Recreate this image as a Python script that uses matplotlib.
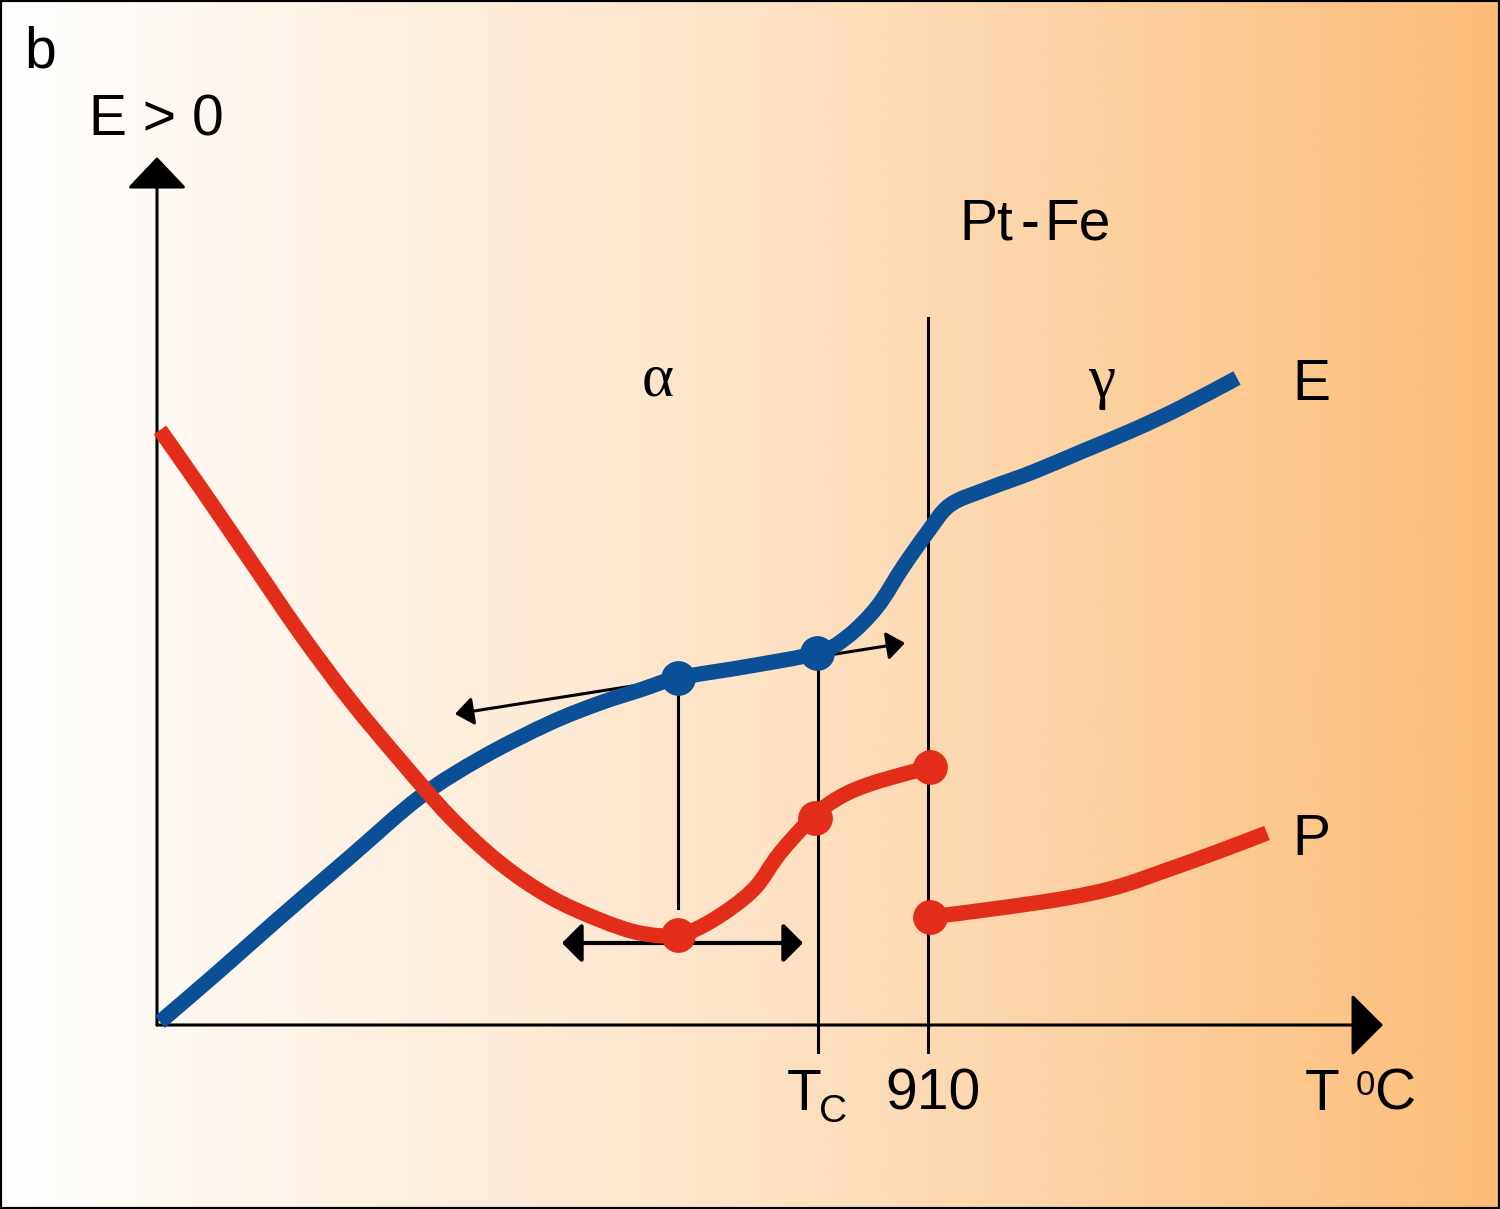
import numpy as np
import matplotlib
matplotlib.use("Agg")
import matplotlib.pyplot as plt
from matplotlib.patches import FancyArrowPatch, ArrowStyle, Rectangle, PathPatch
from matplotlib.path import Path
from matplotlib.colors import LinearSegmentedColormap

# ---- data (T on x, E / P on y, arbitrary units) ----
e_t = [0.03, 0.60, 1.20, 1.93, 2.63, 3.26, 3.93, 4.43, 4.83, 5.21, 5.93,
       6.60, 6.90, 7.20, 7.46, 7.70, 7.93, 8.30, 8.76, 9.26, 9.76,
       10.23, 10.80]
e_val = [0.03, 0.52, 1.05, 1.68, 2.28, 2.68, 3.02, 3.22, 3.35, 3.47, 3.59,
         3.72, 3.88, 4.18, 4.58, 4.92, 5.20, 5.36, 5.53, 5.74, 5.95,
         6.17, 6.47]

p1_t = [0.03, 0.43, 0.93, 1.43, 1.93, 2.43, 2.93, 3.43, 3.93, 4.43,
        4.83, 5.21, 5.56, 5.96, 6.23, 6.56, 6.83, 7.16, 7.73]
p1_val = [5.95, 5.38, 4.65, 3.92, 3.25, 2.65, 2.08, 1.62, 1.28, 1.05,
          0.92, 0.90, 1.05, 1.35, 1.72, 2.08, 2.28, 2.42, 2.58]

p2_t = [7.73, 8.43, 9.10, 9.60, 10.10, 10.60, 11.10]
p2_val = [1.08, 1.17, 1.27, 1.38, 1.55, 1.73, 1.92]

e_dots_t = [5.21, 6.60]
e_dots = [3.47, 3.72]
p_dots_t = [5.21, 6.58, 7.73, 7.73]
p_dots = [0.90, 2.07, 2.58, 1.08]

t_min = 5.21     # minimum of P
t_c = 6.61       # Curie temperature
t_910 = 7.71     # alpha -> gamma

BLUE = "#0B4F97"
RED = "#E12D1A"
SANS = ["Liberation Sans Narrow", "Liberation Sans", "DejaVu Sans"]
SERIF = ["Liberation Serif", "DejaVu Serif"]

fig = plt.figure(figsize=(15, 12.09), dpi=100)
ax = fig.add_axes([0, 0, 1, 1])
ax.set_xlim(-1.57, 13.43)
ax.set_ylim(-1.84, 10.25)
ax.axis("off")

# background gradient white -> orange
cmap = LinearSegmentedColormap.from_list("bg", ["#FFFFFF", "#FDE3C6", "#FDBD78"])
grad = np.linspace(0, 1, 512).reshape(1, -1)
ax.imshow(grad, cmap=cmap, aspect="auto", extent=(-1.57, 13.43, -1.84, 10.25),
          zorder=0)
ax.add_patch(Rectangle((0, 0), 1, 1, transform=ax.transAxes, fill=False,
                       edgecolor="black", lw=3, zorder=10))


def arrow(p0, p1, lw, hl, hw, both=False):
    style = "<|-|>" if both else "-|>"
    a = FancyArrowPatch(p0, p1, arrowstyle=ArrowStyle(style, head_length=hl, head_width=hw),
                        mutation_scale=1, lw=lw, color="black",
                        shrinkA=0, shrinkB=0, zorder=3)
    ax.add_patch(a)


def smooth_curve(xs, ys, color):
    # smooth bezier through the read points (catmull-rom style)
    pts = np.column_stack([xs, ys])
    verts = [pts[0]]
    codes = [Path.MOVETO]
    n = len(pts)
    for i in range(n - 1):
        p0 = pts[i - 1] if i > 0 else pts[i]
        p1 = pts[i]
        p2 = pts[i + 1]
        p3 = pts[i + 2] if i + 2 < n else pts[i + 1]
        verts += [p1 + (p2 - p0) / 6, p2 - (p3 - p1) / 6, p2]
        codes += [Path.CURVE4] * 3
    ax.add_patch(PathPatch(Path(verts, codes), fill=False, edgecolor=color,
                           lw=11, capstyle="butt", joinstyle="round", zorder=4))


# axes
arrow((0, 0), (0, 8.68), 2.2, 20, 19)
arrow((0, 0), (12.26, 0), 2.2, 20, 20)

# guide lines
ax.plot([t_min, t_min], [1.17, 3.35], color="black", lw=2.2, zorder=2)
ax.plot([t_c, t_c], [-0.27, 3.70], color="black", lw=2.2, zorder=2)
ax.plot([t_910, t_910], [-0.27, 7.07], color="black", lw=2.2, zorder=2)

# tangent and width arrows
arrow((2.98, 3.11), (7.48, 3.82), 2.2, 11, 8.5, both=True)
arrow((4.05, 0.82), (6.46, 0.82), 3.0, 12, 12, both=True)

# curves
smooth_curve(e_t, e_val, BLUE)
smooth_curve(p1_t, p1_val, RED)
smooth_curve(p2_t, p2_val, RED)
ax.plot(e_dots_t, e_dots, "o", color=BLUE, ms=24, zorder=5)
ax.plot(p_dots_t, p_dots, "o", color=RED, ms=24, zorder=5)

# labels
fs = 41
ax.text(-1.33, 9.57, "b", family=SANS, fontsize=fs, va="baseline", ha="left")
ax.text(-0.01, 8.90, "E > 0", family=SANS, fontsize=fs, va="baseline", ha="center")
ax.text(8.56, 7.85, "Pt", family=SANS, fontsize=fs, va="baseline", ha="right")
ax.text(8.73, 7.85, "-", family=SANS, fontsize=fs, va="baseline", ha="center")
ax.text(8.87, 7.85, "Fe", family=SANS, fontsize=fs, va="baseline", ha="left")
ax.text(5.01, 6.30, "α", family=SERIF, fontsize=44, va="baseline", ha="center")
ax.text(9.45, 6.28, "γ", family=SERIF, fontsize=44, va="baseline", ha="center")
ax.text(11.35, 6.25, "E", family=SANS, fontsize=fs, va="baseline", ha="left")
ax.text(11.35, 1.70, "P", family=SANS, fontsize=fs, va="baseline", ha="left")
ax.text(6.30, -0.85, "T", family=SANS, fontsize=fs, va="baseline", ha="left")
ax.text(6.62, -0.97, "C", family=SANS, fontsize=28, va="baseline", ha="left")
ax.text(7.76, -0.85, "910", family=SANS, fontsize=fs, va="baseline", ha="center")
ax.text(11.48, -0.85, "T", family=SANS, fontsize=fs, va="baseline", ha="left")
ax.text(11.99, -0.70, "0", family=SANS, fontsize=25, va="baseline", ha="left")
ax.text(12.17, -0.85, "C", family=SANS, fontsize=fs, va="baseline", ha="left")

fig.savefig("out.png", dpi=100)
